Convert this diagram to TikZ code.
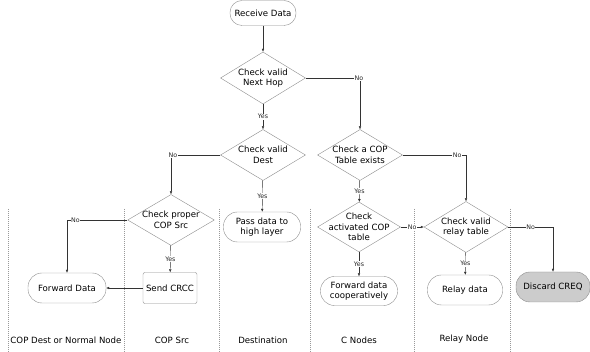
\documentclass[tikz,border=0pt]{standalone}
\usepackage{fontspec}
\setmainfont{DejaVu Sans}
\usetikzlibrary{shapes.geometric,arrows.meta}

\tikzset{
  box/.style={draw=black!45, thin, font=\fontsize{8.6}{10.5}\selectfont, align=center, inner sep=0pt},
  term/.style={box, rounded corners=14pt, minimum width=76pt, minimum height=30pt},
  test/.style={box, shape=diamond, aspect=1.7, minimum width=85pt, minimum height=51pt},
  arr/.style={draw=black!80, -{Latex[length=3pt,width=2.6pt]}},
  lbl/.style={font=\fontsize{6.3}{7}\selectfont, fill=white, inner sep=0.6pt, text=black!85},
  lane/.style={draw=black!40, dashed, dash pattern=on 1.2pt off 0.8pt, thin},
  lanename/.style={font=\fontsize{8.6}{10.5}\selectfont}
}

\begin{document}
\begin{tikzpicture}[x=1pt,y=-1pt]
    \useasboundingbox (0,0) rectangle (590,352);

    % lanes
    \foreach \x in {8,124,219,310,414,510}
        \draw[lane] (\x,209) -- (\x,352);
    \node[lanename] (l1) at (66,340) {COP Dest or Normal Node};
    \node[lanename] (l2) at (172,340) {COP Src};
    \node[lanename] (l3) at (263,340) {Destination};
    \node[lanename] (l4) at (359,340) {C Nodes};
    \node[lanename] (l5) at (464,339) {Relay Node};

    % steps
    \node[term, minimum width=66pt, minimum height=25pt, rounded corners=12pt] (recv) at (263,13) {Receive Data};
    \node[test, minimum height=52pt] (hop) at (263,78) {Check valid\\Next Hop};
    \node[test] (dest) at (263,155) {Check valid\\Dest};
    \node[test] (cop) at (360,155) {Check a COP\\Table exists};
    \node[test, minimum width=84pt] (src) at (171,220) {Check proper\\COP Src};
    \node[test, minimum width=83pt, minimum height=50pt, inner sep=-9pt] (act) at (359,227) {Check\\activated COP\\table};
    \node[test, minimum width=84pt] (relay) at (466,227) {Check valid\\relay table};

    \node[term, minimum width=77pt] (pass) at (262,227) {Pass data to\\high layer};
    \node[box, rounded corners=2pt, minimum width=54pt, minimum height=31pt] (crcc) at (170,288) {Send CRCC};
    \node[term, minimum width=78pt] (fwd) at (67,288) {Forward Data};
    \node[term, minimum width=77pt, minimum height=29pt] (coop) at (359,291) {Forward data\\cooperatively};
    \node[term, minimum width=75pt] (rdata) at (465,290) {Relay data};
    \node[term, minimum width=74pt, fill=black!20] (discard) at (553,287) {Discard CREQ};

    % flow
    \draw[arr] (recv) -- (hop);
    \draw[arr] (hop) -- node[lbl] {Yes} (dest);
    \draw[arr] (hop.east) -| node[lbl, pos=0.49] {No} (cop.north);
    \draw[arr] (dest.west) -| node[lbl, pos=0.48] {No} (src.north);
    \draw[arr] (dest) -- node[lbl] {Yes} (pass);
    \draw[arr] (cop) -- node[lbl] {Yes} (act);
    \draw[arr] (cop.east) -| node[lbl, pos=0.43] {No} (relay.north);
    \draw[arr] (src) -- node[lbl] {Yes} (crcc);
    \draw[arr] (src.west) -| node[lbl, pos=0.43] {No} (fwd.north);
    \draw[arr] (crcc) -- (fwd);
    \draw[arr] (act) -- node[lbl] {Yes} (coop);
    \draw[arr] (act) -- node[lbl] {No} (relay);
    \draw[arr] (relay) -- node[lbl] {Yes} (rdata);
    \draw[arr] (relay.east) -| node[lbl, pos=0.25] {No} (discard.north);

\end{tikzpicture}
\end{document}
